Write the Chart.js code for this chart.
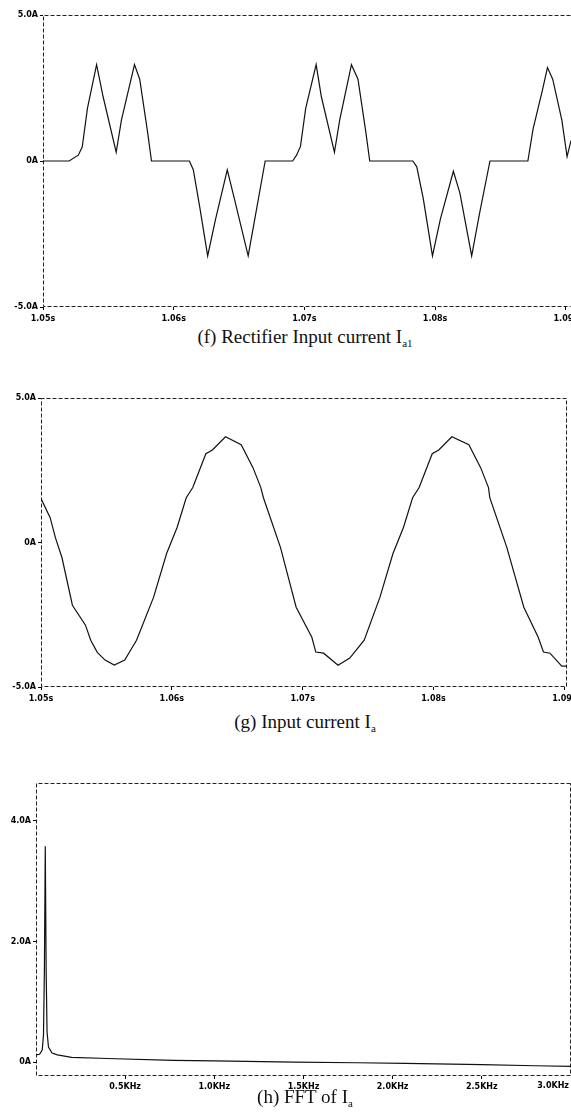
<!DOCTYPE html>
<html>
<head>
<meta charset="utf-8">
<script src="https://cdn.jsdelivr.net/npm/chart.js@4.4.0/dist/chart.umd.min.js"></script>
<style>
  html, body { margin: 0; padding: 0; background: #fff; }
  body { width: 571px; height: 1117px; position: relative; overflow: hidden; }
  .box { position: absolute; left: 0; width: 571px; }
  .cap {
    position: absolute; left: 305px; transform: translateX(-50%); white-space: nowrap;
    font-family: 'Liberation Serif', 'Times New Roman', serif; font-size: 19px; color: #111; z-index: 2;
  }
  .cap sub { font-size: 11px; vertical-align: -4px; line-height: 0; }
</style>
</head>
<body>
<div class="box" style="top:0;height:323px"><canvas id="rectChart"></canvas></div>
<div class="cap" style="top:326px">(f) Rectifier Input current I<sub>a1</sub></div>

<div class="box" style="top:383px;height:320px"><canvas id="inputChart"></canvas></div>
<div class="cap" style="top:711px">(g) Input current I<sub>a</sub></div>

<div class="box" style="top:768px;height:324px"><canvas id="fftChart"></canvas></div>
<div class="cap" style="top:1086px">(h) FFT of I<sub>a</sub></div>

<script>
// (f) rectifier input current Ia1, seconds / amps
const rectTime = [1.0500, 1.0520, 1.0527, 1.0530, 1.0534, 1.0541, 1.0546, 1.0556, 1.0560, 1.0570, 1.0574, 1.0580, 1.0583,
  1.0612, 1.0615, 1.0620, 1.0626, 1.0632, 1.0641, 1.0647, 1.0657, 1.0662, 1.0670,
  1.0691, 1.0694, 1.0697, 1.0701, 1.0709, 1.0713, 1.0723, 1.0727, 1.0736, 1.0741, 1.0747, 1.0750,
  1.0783, 1.0786, 1.0791, 1.0798, 1.0804, 1.0814, 1.0819, 1.0828, 1.0834, 1.0842,
  1.0871, 1.0875, 1.0882, 1.0886, 1.0890, 1.0897, 1.0901, 1.0904];
const rectCurrent = [0, 0, 0.2, 0.48, 1.8, 3.3, 2.2, 0.3, 1.4, 3.3, 2.8, 1.0, 0,
  0, -0.3, -1.6, -3.25, -2.0, -0.3, -1.4, -3.25, -2.0, 0,
  0, 0.2, 0.5, 1.8, 3.3, 2.2, 0.3, 1.4, 3.3, 2.8, 1.0, 0,
  0, -0.2, -1.3, -3.25, -2.0, -0.35, -1.1, -3.25, -1.8, 0,
  0, 1.1, 2.4, 3.2, 2.8, 1.4, 0.15, 0.7];

// (g) input current Ia
const inTime = [1.0500, 1.0507, 1.0511, 1.0516, 1.0524, 1.0534, 1.0538, 1.0543, 1.0549, 1.0556, 1.0564, 1.0573,
  1.0586, 1.0596, 1.0604, 1.0611, 1.0616, 1.0626, 1.0631, 1.0641, 1.0653, 1.0662, 1.0668, 1.0670,
  1.0683, 1.0695, 1.0707, 1.0710, 1.0716, 1.0727, 1.0736, 1.0747, 1.0759, 1.0769, 1.0777, 1.0784,
  1.0789, 1.0799, 1.0804, 1.0814, 1.0827, 1.0836, 1.0842, 1.0843, 1.0856, 1.0869, 1.0880, 1.0884,
  1.0889, 1.0898, 1.0902];
const inCurrent = [1.52, 0.86, 0.17, -0.52, -2.17, -2.86, -3.38, -3.8, -4.07, -4.24, -4.07, -3.38,
  -1.9, -0.38, 0.52, 1.55, 1.9, 3.07, 3.2, 3.66, 3.38, 2.59, 1.9, 1.55,
  -0.17, -2.24, -3.28, -3.79, -3.83, -4.25, -4.0, -3.38, -1.9, -0.38, 0.52, 1.55,
  1.9, 3.07, 3.2, 3.66, 3.38, 2.59, 1.9, 1.55, -0.17, -2.24, -3.28, -3.79,
  -3.83, -4.28, -4.28];

// (h) FFT of Ia, kHz / amps
const fftFreq = [0, 0.02, 0.035, 0.042, 0.047, 0.052, 0.057, 0.062, 0.07, 0.09, 0.12, 0.2, 0.4, 0.77, 1.0,
  1.45, 1.8, 2.07, 2.5, 2.8, 3.0];
const fftAmp = [0.12, 0.13, 0.2, 0.45, 1.5, 3.58, 1.5, 0.5, 0.25, 0.15, 0.12, 0.08, 0.06, 0.03, 0.02,
  0.0, -0.01, -0.02, -0.04, -0.06, -0.07];

const timeTicks = [1.05, 1.06, 1.07, 1.08, 1.09];
const currentTicks = [-5, 0, 5];
const freqTicks = [0.5, 1.0, 1.5, 2.0, 2.5, 3.0];
const fftTicks = [0, 2, 4];

const tickFont = { family: 'DejaVu Sans', size: 8, weight: 'bold' };

const dashedFrame = {
  id: 'dashedFrame',
  beforeDatasetsDraw(chart, args, opts) {
    const { ctx, chartArea: a } = chart;
    const l = Math.round(a.left) + 0.5, r = Math.round(a.right) - 0.5;
    const t = Math.round(a.top) + 0.5, b = Math.round(a.bottom) - 0.5;
    ctx.save();
    ctx.strokeStyle = '#222';
    ctx.lineWidth = 1;
    ctx.setLineDash([4, 2]);
    ctx.beginPath();
    ctx.moveTo(r, t); ctx.lineTo(l, t); ctx.lineTo(l, b); ctx.lineTo(r, b);
    if (opts.right !== false) ctx.lineTo(r, t);
    ctx.stroke();
    ctx.restore();
  }
};

// last x label drawn right-aligned so it isn't cut by the page edge
const edgeLabel = {
  id: 'edgeLabel',
  afterDraw(chart, args, opts) {
    if (!opts.text) return;
    const { ctx } = chart;
    const xs = chart.scales.x;
    ctx.save();
    ctx.font = 'bold 8px "DejaVu Sans"';
    ctx.fillStyle = '#000';
    ctx.textAlign = 'right';
    ctx.textBaseline = 'top';
    ctx.fillText(opts.text, opts.x, xs.top + 3 + opts.pad);
    ctx.restore();
  }
};

function makeChart(id, xVals, yVals, cfg) {
  const canvas = document.getElementById(id);
  const points = xVals.map((x, i) => ({ x: x, y: yVals[i] }));
  return new Chart(canvas.getContext('2d'), {
    type: 'line',
    data: {
      datasets: [{
        data: points,
        borderColor: '#111',
        borderWidth: 1.2,
        pointRadius: 0,
        tension: 0,
        fill: false
      }]
    },
    options: {
      responsive: true,
      maintainAspectRatio: false,
      animation: false,
      layout: { padding: { top: 15, right: cfg.padRight, bottom: 0, left: 0 } },
      plugins: {
        legend: { display: false },
        tooltip: { enabled: false },
        dashedFrame: { right: cfg.frameRight },
        edgeLabel: cfg.edge || {}
      },
      scales: {
        x: {
          type: 'linear',
          min: cfg.xMin,
          max: cfg.xMax,
          afterBuildTicks: s => { s.ticks = cfg.xTicks.map(v => ({ value: v })); },
          afterFit: s => { s.height = 16; s.paddingLeft = 0; s.paddingRight = 0; },
          border: { display: false },
          grid: { drawOnChartArea: false, tickLength: 3, color: '#000' },
          ticks: { font: tickFont, color: '#000', padding: cfg.xPad, maxRotation: 0, autoSkip: false, callback: cfg.xLabel }
        },
        y: {
          min: cfg.yMin,
          max: cfg.yMax,
          afterBuildTicks: s => { s.ticks = cfg.yTicks.map(v => ({ value: v })); },
          afterFit: s => { s.width = cfg.yWidth; s.paddingTop = 0; s.paddingBottom = 0; },
          border: { display: false },
          grid: { drawOnChartArea: false, tickLength: 3, color: '#000' },
          ticks: { font: tickFont, color: '#000', padding: 2, callback: cfg.yLabel }
        }
      }
    },
    plugins: [dashedFrame, edgeLabel]
  });
}

const ampLabel = v => v === 0 ? '0A' : v.toFixed(1) + 'A';
const secLabel = v => v.toFixed(2) + 's';

makeChart('rectChart', rectTime, rectCurrent, {
  xMin: 1.05, xMax: 1.0904, xTicks: timeTicks, xLabel: secLabel, xPad: 4,
  yMin: -5, yMax: 5, yTicks: currentTicks, yLabel: ampLabel,
  yWidth: 43, padRight: 0, frameRight: false
});

makeChart('inputChart', inTime, inCurrent, {
  xMin: 1.05, xMax: 1.0902, xTicks: timeTicks, xLabel: secLabel, xPad: 4,
  yMin: -5, yMax: 5, yTicks: currentTicks, yLabel: ampLabel,
  yWidth: 41, padRight: 4, frameRight: true
});

makeChart('fftChart', fftFreq, fftAmp, {
  xMin: 0, xMax: 3.0, xTicks: freqTicks, xPad: 3,
  xLabel: v => v === 3 ? '' : v.toFixed(1) + 'KHz',
  yMin: -0.23, yMax: 4.63, yTicks: fftTicks, yLabel: ampLabel,
  yWidth: 36, padRight: 0, frameRight: true,
  edge: { text: '3.0KHz', x: 569, pad: 3 }
});
</script>
</body>
</html>
